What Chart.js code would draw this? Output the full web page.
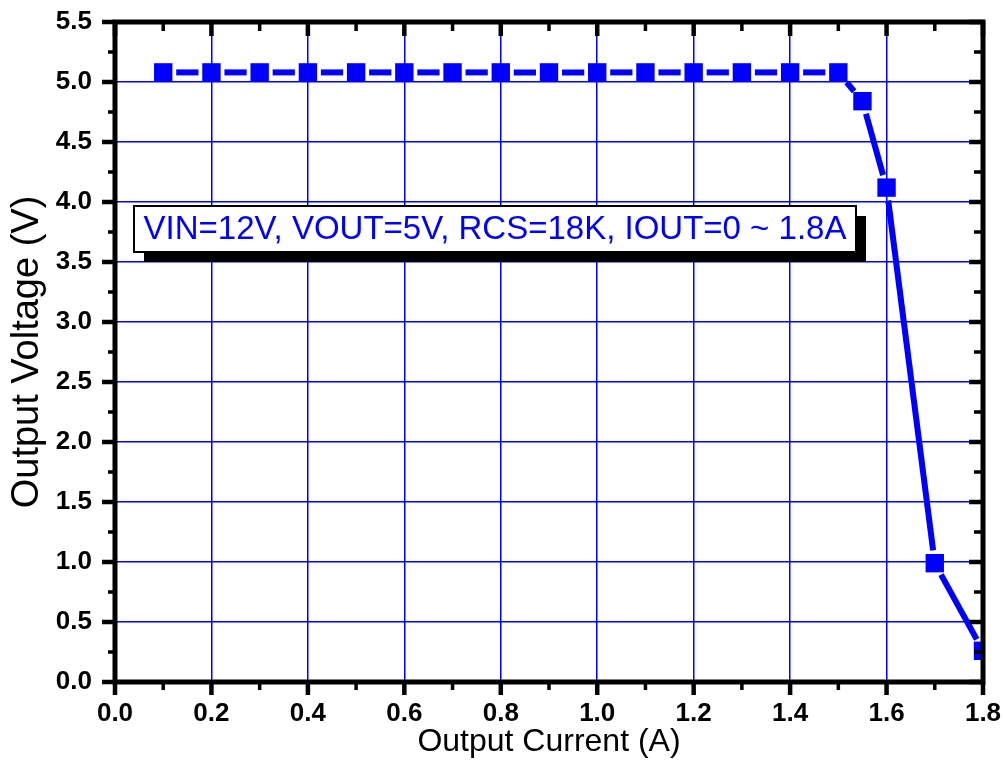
<!DOCTYPE html>
<html>
<head>
<meta charset="utf-8">
<title>Output Voltage vs Output Current</title>
<script src="https://cdn.jsdelivr.net/npm/chart.js@4.4.1/dist/chart.umd.min.js"></script>
<style>
  html, body { margin: 0; padding: 0; background: #ffffff; }
  #wrap { width: 1004px; height: 767px; position: relative; }
</style>
</head>
<body>
<div id="wrap"><canvas id="myChart0"></canvas></div>
<script>
// measured points (A, V)
var currents = [0.1, 0.2, 0.3, 0.4, 0.5, 0.6, 0.7, 0.8, 0.9, 1.0, 1.1, 1.2, 1.3, 1.4, 1.5, 1.55, 1.6, 1.7, 1.8];
var voltages = [5.08, 5.08, 5.08, 5.08, 5.08, 5.08, 5.08, 5.08, 5.08, 5.08, 5.08, 5.08, 5.08, 5.08, 5.08, 4.84, 4.12, 0.99, 0.26];

var xTickValues = [0.0, 0.2, 0.4, 0.6, 0.8, 1.0, 1.2, 1.4, 1.6, 1.8];
var yTickValues = [0.0, 0.5, 1.0, 1.5, 2.0, 2.5, 3.0, 3.5, 4.0, 4.5, 5.0, 5.5];

var xTitle = 'Output Current (A)';
var yTitle = 'Output Voltage (V)';
var noteText = 'VIN=12V, VOUT=5V, RCS=18K, IOUT=0 ~ 1.8A';

var BLUE = '#0000ff';
var symbolGap = 13;   // line stops short of each square, like Origin's "gap to symbol"

Chart.defaults.font.family = '"Liberation Sans", Arial, sans-serif';
Chart.defaults.color = '#000';

var points = [];
for (var i = 0; i < currents.length; i++) {
  points.push({ x: currents[i], y: voltages[i] });
}

function noPad(s) {
  s.paddingTop = 0; s.paddingBottom = 0;
  s.paddingLeft = 0; s.paddingRight = 0;
}

// black frame with ticks on all four sides + the text box
var framePlugin = {
  id: 'frame',
  beforeDatasetsDraw: function(chart) {
    var ctx = chart.ctx;
    ctx.save();
    ctx.fillStyle = '#000';
    ctx.fillRect(144, 216, 722, 46);
    ctx.fillStyle = '#fff';
    ctx.fillRect(134, 206, 722, 46);
    ctx.strokeStyle = '#000';
    ctx.lineWidth = 2;
    ctx.strokeRect(134, 206, 722, 46);
    ctx.fillStyle = BLUE;
    ctx.font = '33px "Liberation Sans", Arial, sans-serif';
    ctx.textAlign = 'center';
    ctx.textBaseline = 'middle';
    ctx.fillText(noteText, 495, 230);
    ctx.restore();
  },
  afterDatasetsDraw: function(chart) {
    var ctx = chart.ctx, a = chart.chartArea;
    var xs = chart.scales.x, ys = chart.scales.y;
    var i, p, m;
    ctx.save();
    ctx.strokeStyle = '#000';
    ctx.lineWidth = 5;
    ctx.lineJoin = 'miter';
    ctx.strokeRect(a.left, a.top, a.right - a.left, a.bottom - a.top);

    ctx.lineWidth = 4.5;
    ctx.beginPath();
    for (i = 0; i < xTickValues.length; i++) {
      p = xs.getPixelForValue(xTickValues[i]);
      ctx.moveTo(p, a.bottom); ctx.lineTo(p, a.bottom + 13);
      ctx.moveTo(p, a.top); ctx.lineTo(p, a.top + 14);
    }
    for (i = 0; i < yTickValues.length; i++) {
      p = ys.getPixelForValue(yTickValues[i]);
      ctx.moveTo(a.left, p); ctx.lineTo(a.left - 13, p);
      ctx.moveTo(a.right, p); ctx.lineTo(a.right - 14, p);
    }
    ctx.stroke();

    ctx.lineWidth = 3.5;
    ctx.beginPath();
    for (i = 0; i < xTickValues.length - 1; i++) {
      m = xs.getPixelForValue((xTickValues[i] + xTickValues[i + 1]) / 2);
      ctx.moveTo(m, a.bottom); ctx.lineTo(m, a.bottom + 8);
      ctx.moveTo(m, a.top); ctx.lineTo(m, a.top + 9);
    }
    for (i = 0; i < yTickValues.length - 1; i++) {
      m = ys.getPixelForValue((yTickValues[i] + yTickValues[i + 1]) / 2);
      ctx.moveTo(a.left, m); ctx.lineTo(a.left - 7, m);
      ctx.moveTo(a.right, m); ctx.lineTo(a.right - 9, m);
    }
    ctx.stroke();
    ctx.restore();
  }
};

var ctx = document.getElementById('myChart0').getContext('2d');
var chart = new Chart(ctx, {
  type: 'scatter',
  data: {
    datasets: [{
      label: 'VOUT',
      data: points,
      showLine: true,
      borderColor: BLUE,
      borderWidth: 6,
      backgroundColor: BLUE,
      pointStyle: 'rect',
      pointRadius: 13,
      pointHoverRadius: 13,
      pointBorderWidth: 0,
      pointBackgroundColor: BLUE,
      tension: 0,
      segment: {
        borderDash: function(c) {
          var dx = c.p1.x - c.p0.x, dy = c.p1.y - c.p0.y;
          var len = Math.sqrt(dx * dx + dy * dy);
          return [0, symbolGap, Math.max(len - 2 * symbolGap, 0), symbolGap];
        }
      }
    }]
  },
  options: {
    responsive: true,
    maintainAspectRatio: false,
    animation: false,
    layout: { padding: { left: 0, top: 22, right: 21, bottom: 0 } },
    plugins: {
      legend: { display: false },
      tooltip: { enabled: false }
    },
    scales: {
      x: {
        type: 'linear',
        min: 0,
        max: 1.8,
        afterBuildTicks: function(s) {
          s.ticks = xTickValues.map(function(v) { return { value: v }; });
        },
        afterFit: function(s) { s.height = 85; noPad(s); },
        grid: { color: BLUE, lineWidth: 1.5, drawTicks: false },
        border: { display: false },
        ticks: {
          autoSkip: false,
          maxRotation: 0,
          padding: 16,
          font: { size: 26, weight: 'bold' },
          callback: function(v) { return Number(v).toFixed(1); }
        },
        title: {
          display: true,
          text: xTitle,
          font: { size: 32 },
          padding: { top: 0, bottom: 6 }
        }
      },
      y: {
        type: 'linear',
        min: 0,
        max: 5.5,
        afterBuildTicks: function(s) {
          s.ticks = yTickValues.map(function(v) { return { value: v }; });
        },
        afterFit: function(s) { s.width = 115; noPad(s); },
        grid: { color: BLUE, lineWidth: 1.5, drawTicks: false },
        border: { display: false },
        ticks: {
          autoSkip: false,
          padding: 23,
          font: { size: 26, weight: 'bold' },
          callback: function(v) { return Number(v).toFixed(1); }
        },
        title: {
          display: true,
          text: yTitle,
          font: { size: 38 },
          padding: { top: 5, bottom: 0 }
        }
      }
    }
  },
  plugins: [framePlugin]
});
</script>
</body>
</html>
